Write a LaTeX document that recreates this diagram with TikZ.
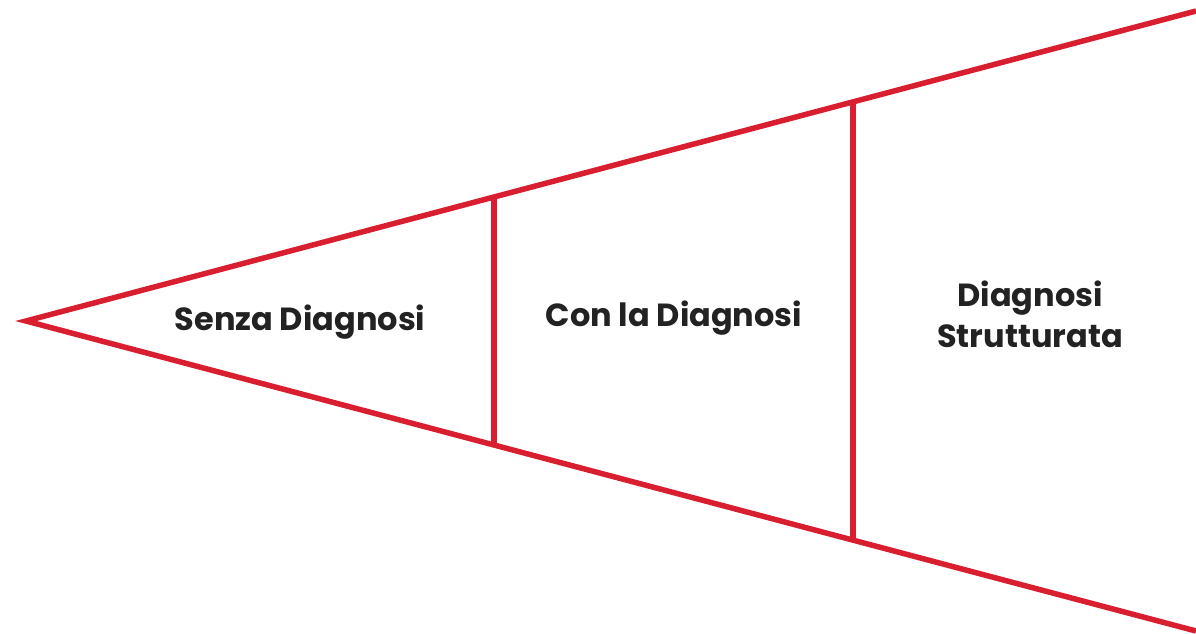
\documentclass[tikz,border=0pt]{standalone}
\usepackage{fontspec}
\setmainfont{Poppins}
\definecolor{fred}{HTML}{D81E2F}
\definecolor{ftext}{HTML}{222222}
\begin{document}
\begin{tikzpicture}[x=1pt,y=-1pt,
  edge/.style={draw=fred,line width=5.5pt},
  lbl/.style={font=\bfseries\fontsize{32}{41}\selectfont,text=ftext,align=center,inner sep=0pt}]
\useasboundingbox (0,0) rectangle (1196,634);
\coordinate (tip) at (26,321);
\coordinate (ue) at (1196,11);
\coordinate (le) at (1196,631);
\coordinate (a1) at (494,197);
\coordinate (b1) at (494,445);
\coordinate (a2) at (853,102);
\coordinate (b2) at (853,540);
\draw[edge,line join=miter] (ue) -- (tip) -- (le);
\draw[edge] (a1) -- (b1);
\draw[edge] (a2) -- (b2);
\node[lbl] (s) at (300,322) {Senza Diagnosi};
\node[lbl] (c) at (674,318) {Con la Diagnosi};
\node[lbl] (d) at (1030,314) {Diagnosi\\Strutturata};
\end{tikzpicture}
\end{document}
